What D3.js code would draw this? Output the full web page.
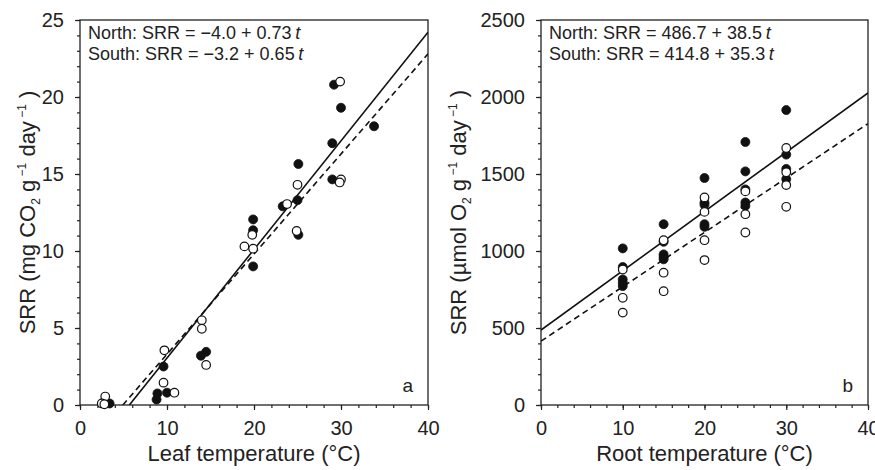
<!DOCTYPE html>
<html>
<head>
<meta charset="utf-8">
<script src="https://cdn.jsdelivr.net/npm/d3@7"></script>
<style>
  body { margin: 0; background: #fff; }
  svg text { font-family: "Liberation Sans", Arial, sans-serif; fill: #222; }
</style>
</head>
<body>
<script>
const width = 875;
const height = 470;

// panel a: leaf temperature (°C) vs SRR (mg CO2 g-1 day-1)
const leafNorth = [
  [30.0, 19.3], [33.8, 18.1], [29.0, 17.0], [29.2, 20.8], [25.1, 15.65], [29.0, 14.65],
  [23.3, 12.9], [25.0, 13.3], [19.9, 12.05], [19.9, 11.35], [19.9, 9.0], [25.1, 11.05],
  [13.9, 3.2], [14.5, 3.45], [9.6, 2.5], [8.9, 0.75], [8.8, 0.35], [10.0, 0.8], [3.4, 0.1]
];
const leafSouth = [
  [29.9, 21.0], [30.0, 14.65], [29.85, 14.45], [25.0, 14.3], [23.8, 13.05], [24.9, 11.3],
  [18.9, 10.3], [19.9, 10.15], [19.8, 11.05], [14.0, 5.5], [14.0, 4.95], [14.5, 2.6],
  [9.7, 3.55], [9.6, 1.45], [10.85, 0.8], [2.9, 0.55], [2.5, 0.1], [2.8, 0.05]
];

// panel b: root temperature (°C) vs SRR (µmol O2 g-1 day-1)
const rootNorth = [
  [10, 1017], [10, 896], [10, 815], [10, 793], [10, 772],
  [15, 1174], [15, 1060], [15, 978], [15, 961], [15, 946],
  [20, 1474], [20, 1315], [20, 1300], [20, 1174], [20, 1157],
  [25, 1708], [25, 1517], [25, 1400], [25, 1315], [25, 1293],
  [30, 1915], [30, 1626], [30, 1533], [30, 1467]
];
const rootSouth = [
  [10, 880], [10, 696], [10, 600],
  [15, 1070], [15, 859], [15, 739],
  [20, 1348], [20, 1254], [20, 1070], [20, 941],
  [25, 1387], [25, 1239], [25, 1120],
  [30, 1669], [30, 1511], [30, 1428], [30, 1287]
];

// fitted lines [intercept, slope]
const leafFitNorth = [-4.0, 0.705];
const leafFitSouth = [-3.2, 0.65];
const rootFitNorth = [486.7, 38.5];
const rootFitSouth = [414.8, 35.3];

// equation labels
const leafEq = [["North: SRR = \u22124.0 + 0.73", "t"], ["South: SRR = \u22123.2 + 0.65", "t"]];
const rootEq = [["North: SRR = 486.7 + 38.5", "t"], ["South: SRR = 414.8 + 35.3", "t"]];

const xTicks = [0, 10, 20, 30, 40];
const leafYTicks = [0, 5, 10, 15, 20, 25];
const rootYTicks = [0, 500, 1000, 1500, 2000, 2500];

let svg = d3.select("body").append("svg").attr("width", width).attr("height", height);

drawPanel({
  id: "a", left: 80, right: 428, top: 20, bottom: 405,
  yMax: 25, yTicks: leafYTicks, yMinorStep: 1,
  north: leafNorth, south: leafSouth, fitN: leafFitNorth, fitS: leafFitSouth,
  eq: leafEq, yTitleX: 35,
  yTitle: [["SRR (mg CO", 0], ["2", 1], [" g", 0], [" \u22121", -1], [" day", 0], [" \u22121", -1], [" )", 0]],
  xTitle: "Leaf temperature (\u00B0C)"
});
drawPanel({
  id: "b", left: 541, right: 868, top: 20, bottom: 405,
  yMax: 2500, yTicks: rootYTicks, yMinorStep: 100,
  north: rootNorth, south: rootSouth, fitN: rootFitNorth, fitS: rootFitSouth,
  eq: rootEq, yTitleX: 466,
  yTitle: [["SRR (\u00B5mol O", 0], ["2", 1], [" g", 0], [" \u22121", -1], [" day", 0], [" \u22121", -1], [" )", 0]],
  xTitle: "Root temperature (\u00B0C)"
});

function drawPanel(p)
{
    let x = d3.scaleLinear().domain([0, 40]).range([p.left, p.right]);
    let y = d3.scaleLinear().domain([0, p.yMax]).range([p.bottom, p.top]);
    let g = svg.append("g");

    // clip to plot area
    g.append("clipPath").attr("id", "clip-" + p.id)
        .append("rect")
        .attr("x", p.left).attr("y", p.top)
        .attr("width", p.right - p.left).attr("height", p.bottom - p.top);

    // minor ticks
    g.append("g").attr("transform", `translate(0,${p.bottom})`)
        .call(d3.axisBottom(x).tickValues(d3.range(0, 41, 2)).tickSize(3).tickFormat(""))
        .call(a => a.select(".domain").remove());
    g.append("g").attr("transform", `translate(${p.left},0)`)
        .call(d3.axisLeft(y).tickValues(d3.range(0, p.yMax + 0.001, p.yMinorStep)).tickSize(3).tickFormat(""))
        .call(a => a.select(".domain").remove());

    // major axes
    let xAxis = g.append("g").attr("transform", `translate(0,${p.bottom})`)
        .call(d3.axisBottom(x).tickValues(xTicks).tickSize(5).tickSizeOuter(0).tickPadding(11)
            .tickFormat(d3.format("d")));
    let yAxis = g.append("g").attr("transform", `translate(${p.left},0)`)
        .call(d3.axisLeft(y).tickValues(p.yTicks).tickSize(5).tickSizeOuter(0).tickPadding(11)
            .tickFormat(d3.format("d")));
    [xAxis, yAxis].forEach(a => {
        a.attr("font-family", null);
        a.selectAll("text").attr("font-size", 20).style("fill", "#222");
        a.select(".domain").remove();
    });
    g.selectAll(".tick line").attr("stroke", "#222").attr("stroke-width", 1.2);

    // frame
    g.append("rect")
        .attr("x", p.left).attr("y", p.top)
        .attr("width", p.right - p.left).attr("height", p.bottom - p.top)
        .attr("fill", "none").attr("stroke", "#222").attr("stroke-width", 1.3);

    // fitted lines
    let plot = g.append("g").attr("clip-path", `url(#clip-${p.id})`);
    let fitLine = (c, dash) => {
        let t0 = Math.max(0, -c[0] / c[1]);
        plot.append("line")
            .attr("x1", x(t0)).attr("y1", y(c[0] + c[1] * t0))
            .attr("x2", x(40)).attr("y2", y(c[0] + c[1] * 40))
            .attr("stroke", "#111").attr("stroke-width", 1.6)
            .attr("stroke-dasharray", dash);
    };
    fitLine(p.fitN, null);
    fitLine(p.fitS, "6,4");

    // points
    g.selectAll(null).data(p.north).enter().append("circle")
        .attr("cx", d => x(d[0])).attr("cy", d => y(d[1]))
        .attr("r", 4.5).attr("fill", "#111").attr("stroke", "#111").attr("stroke-width", 0.8);
    g.selectAll(null).data(p.south).enter().append("circle")
        .attr("cx", d => x(d[0])).attr("cy", d => y(d[1]))
        .attr("r", 4.3).attr("fill", "#fff").attr("stroke", "#111").attr("stroke-width", 1.2);

    // equations
    p.eq.forEach((e, i) => {
        let t = g.append("text")
            .attr("x", p.left + 8).attr("y", p.top + 19 + i * 21)
            .attr("font-size", 18);
        t.append("tspan").text(e[0] + "\u2009");
        t.append("tspan").attr("font-style", "italic").text(e[1]);
    });

    // panel letter
    g.append("text")
        .attr("x", p.right - 15).attr("y", p.bottom - 13)
        .attr("text-anchor", "end").attr("font-size", 19)
        .text(p.id);

    // axis titles
    g.append("text")
        .attr("x", (p.left + p.right) / 2).attr("y", 461)
        .attr("text-anchor", "middle").attr("font-size", 22)
        .text(p.xTitle);

    let yt = g.append("text")
        .attr("transform", `translate(${p.yTitleX},${(p.top + p.bottom) / 2}) rotate(-90)`)
        .attr("text-anchor", "middle").attr("font-size", 22);
    p.yTitle.forEach((s, i) => {
        let prev = i > 0 ? p.yTitle[i - 1][1] : 0;
        let span = yt.append("tspan").text(s[0]);
        let shift = s[1] === 1 ? 5 : s[1] === -1 ? -9 : 0;
        let prevShift = prev === 1 ? 5 : prev === -1 ? -9 : 0;
        if (shift - prevShift !== 0) span.attr("dy", shift - prevShift);
        if (s[1] !== 0) span.attr("font-size", 12);
    });
}
</script>
</body>
</html>
